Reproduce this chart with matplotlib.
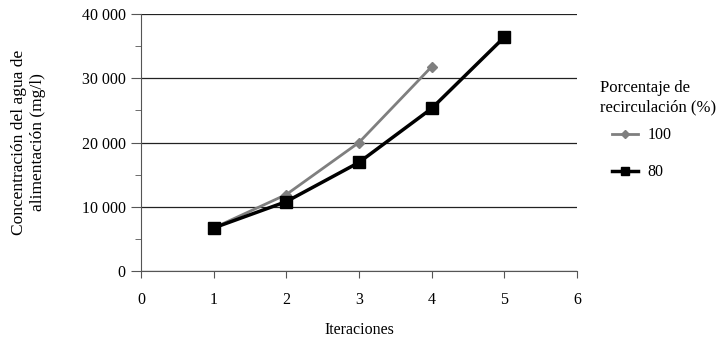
import matplotlib.pyplot as plt
from matplotlib.ticker import MultipleLocator, FuncFormatter

plt.rcParams['font.family'] = ['Liberation Serif', 'DejaVu Serif']

iter_100 = [1, 2, 3, 4]
conc_100 = [6700, 11900, 20000, 31800]
iter_80 = [1, 2, 3, 4, 5]
conc_80 = [6700, 10800, 16900, 25300, 36400]

fig = plt.figure(figsize=(7.19, 3.39), dpi=100)
ax = fig.add_axes([0.196, 0.2006, 0.6065, 0.758])

ax.plot(iter_100, conc_100, color='#7f7f7f', lw=2, marker='D', ms=5, label='100', zorder=3)
ax.plot(iter_80, conc_80, color='black', lw=2.5, marker='s', ms=8, label='80', zorder=4)

ax.set_xlim(0, 6)
ax.set_ylim(0, 40000)
ax.xaxis.set_major_locator(MultipleLocator(1))
ax.yaxis.set_major_locator(MultipleLocator(10000))
ax.yaxis.set_minor_locator(MultipleLocator(5000))
ax.yaxis.set_major_formatter(FuncFormatter(lambda v, p: f'{int(v):,}'.replace(',', ' ')))

ax.grid(axis='y', which='major', color='#222222', lw=0.9)
for s in ['top', 'right']:
    ax.spines[s].set_visible(False)
ax.spines['left'].set_color('#555555')
ax.spines['bottom'].set_color('#555555')
ax.tick_params(axis='y', which='major', length=7, color='#555555', labelsize=11.5, pad=4)
ax.tick_params(axis='y', which='minor', length=4, color='#555555')
ax.tick_params(axis='x', length=5, color='#555555', labelsize=11.5, pad=10)

ax.set_xlabel('Iteraciones', fontsize=11.5, labelpad=10)
ax.set_ylabel('Concentración del agua de\nalimentación (mg/l)', fontsize=12.5, labelpad=26)

# legend title placed separately so the entries sit indented below it
fig.text(600 / 719, 1 - 80 / 339, 'Porcentaje de\nrecirculación (%)', fontsize=12,
         ha='left', va='top', linespacing=1.25)
fig.legend(loc='upper left', bbox_to_anchor=(606 / 719, 1 - 121 / 339), frameon=False,
           fontsize=11.5, handlelength=1.6, handletextpad=0.6, labelspacing=1.3,
           markerscale=0.8, borderaxespad=0)

fig.savefig('out.png', dpi=100)
